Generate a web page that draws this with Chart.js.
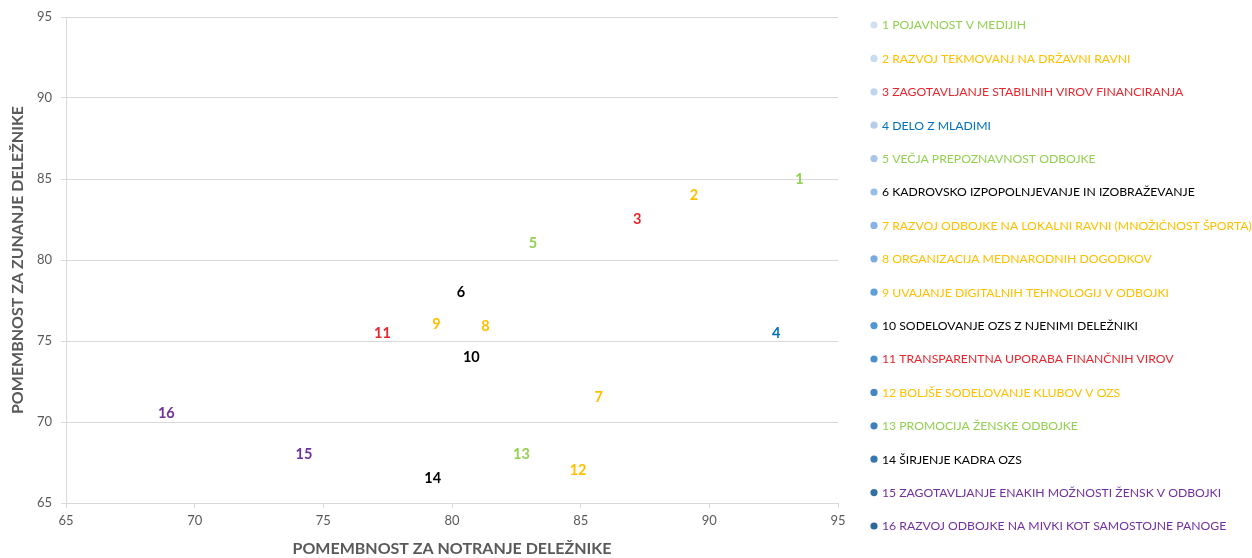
<!DOCTYPE html>
<html>
<head>
<meta charset="utf-8">
<script src="https://cdn.jsdelivr.net/npm/chart.js@4.4.1/dist/chart.umd.min.js"></script>
<style>
  html, body { margin: 0; padding: 0; background: #ffffff; }
  #wrap { width: 1252px; height: 558px; position: relative; }
</style>
</head>
<body>
<div id="wrap"><canvas id="c"></canvas></div>
<script>
const names = [
  "1 POJAVNOST V MEDIJIH",
  "2 RAZVOJ TEKMOVANJ NA DRŽAVNI RAVNI",
  "3 ZAGOTAVLJANJE STABILNIH VIROV FINANCIRANJA",
  "4 DELO Z MLADIMI",
  "5 VEČJA PREPOZNAVNOST ODBOJKE",
  "6 KADROVSKO IZPOPOLNJEVANJE IN IZOBRAŽEVANJE",
  "7 RAZVOJ ODBOJKE NA LOKALNI RAVNI (MNOŽIČNOST ŠPORTA)",
  "8 ORGANIZACIJA MEDNARODNIH DOGODKOV",
  "9 UVAJANJE DIGITALNIH TEHNOLOGIJ V ODBOJKI",
  "10 SODELOVANJE OZS Z NJENIMI DELEŽNIKI",
  "11 TRANSPARENTNA UPORABA FINANČNIH VIROV",
  "12 BOLJŠE SODELOVANJE KLUBOV V OZS",
  "13 PROMOCIJA ŽENSKE ODBOJKE",
  "14 ŠIRJENJE KADRA OZS",
  "15 ZAGOTAVLJANJE ENAKIH MOŽNOSTI ŽENSK V ODBOJKI",
  "16 RAZVOJ ODBOJKE NA MIVKI KOT SAMOSTOJNE PANOGE"
];
const pointLabels = ["1","2","3","4","5","6","7","8","9","10","11","12","13","14","15","16"];
const internalImportance = [93.5, 89.4, 87.2, 92.6, 83.15, 80.35, 85.7, 81.3, 79.4, 80.75, 77.3, 84.9, 82.7, 79.25, 74.25, 68.9];
const externalImportance = [85.0, 84.0, 82.5, 75.5, 81.05, 78.0, 71.5, 75.9, 76.0, 74.0, 75.5, 67.0, 68.0, 66.55, 68.0, 70.55];
const axisTicks = [65, 70, 75, 80, 85, 90, 95];
const xTitle = "POMEMBNOST ZA NOTRANJE DELEŽNIKE";
const yTitle = "POMEMBNOST ZA ZUNANJE DELEŽNIKE";

const GREEN = "#92D050", YELLOW = "#FFC000", RED = "#E8262E", BLUE = "#0070C0", BLACK = "#000000", PURPLE = "#7030A0";
const textColors = [GREEN, YELLOW, RED, BLUE, GREEN, BLACK, YELLOW, YELLOW, YELLOW, BLACK, RED, YELLOW, GREEN, BLACK, PURPLE, PURPLE];
const markerColors = ["#d0e0f2","#c8dbf0","#bfd5ee","#b3cdeb","#a6c5e9","#98bce6","#89b3e3","#7aaadf",
                      "#5d9fd8","#5197d3","#498fcc","#4387c3","#3d7fba","#3777af","#3270a4","#2e6898"];

const datasets = names.map((n, i) => ({
  label: n,
  data: [{ x: internalImportance[i], y: externalImportance[i] }],
  backgroundColor: markerColors[i],
  borderColor: markerColors[i],
  pointRadius: 0,
  pointHoverRadius: 0
}));

const labelPlugin = {
  id: 'pointLabels',
  afterDatasetsDraw(chart) {
    const ctx = chart.ctx;
    ctx.save();
    ctx.font = "bold 14.5px Lato";
    ctx.textAlign = "center";
    ctx.textBaseline = "middle";
    chart.data.datasets.forEach((ds, i) => {
      const meta = chart.getDatasetMeta(i);
      const el = meta.data[0];
      if (!el) return;
      ctx.fillStyle = textColors[i];
      ctx.fillText(pointLabels[i], el.x, el.y);
    });
    ctx.restore();
  }
};

const legendPlugin = {
  id: 'customLegend',
  afterDraw(chart) {
    const ctx = chart.ctx;
    const ca = chart.chartArea;
    const x0 = ca.right + 36;
    const y0 = ca.top + 8;
    const step = 33.4;
    ctx.save();
    ctx.font = "12.2px Lato";
    ctx.textAlign = "left";
    ctx.textBaseline = "middle";
    chart.data.datasets.forEach((ds, i) => {
      const y = y0 + i * step;
      ctx.beginPath();
      ctx.fillStyle = ds.backgroundColor;
      ctx.arc(x0, y, 3.6, 0, Math.PI * 2);
      ctx.fill();
      ctx.fillStyle = textColors[i];
      ctx.fillText(ds.label, x0 + 8, y + 0.5);
    });
    ctx.restore();
  }
};

new Chart(document.getElementById('c'), {
  type: 'scatter',
  data: { datasets },
  plugins: [labelPlugin, legendPlugin],
  options: {
    responsive: true,
    maintainAspectRatio: false,
    animation: false,
    events: [],
    layout: { padding: { top: 17, right: 414, left: 0, bottom: 0 } },
    plugins: { legend: { display: false }, tooltip: { enabled: false } },
    scales: {
      x: {
        type: 'linear',
        min: axisTicks[0], max: axisTicks[axisTicks.length - 1],
        afterBuildTicks(s) { s.ticks = axisTicks.map(v => ({ value: v })); },
        afterFit(s) { s.height = 55; },
        grid: { drawOnChartArea: false, drawTicks: true, tickLength: 5, color: "#d9d9d9", lineWidth: 1 },
        border: { display: true, color: "#d9d9d9", width: 1 },
        ticks: { color: "#595959", font: { family: "Lato", size: 13 }, padding: 5 },
        title: { display: true, text: xTitle, color: "#595959", font: { family: "Lato", size: 16, weight: "bold" }, padding: { top: 0, bottom: 0 } }
      },
      y: {
        type: 'linear',
        min: axisTicks[0], max: axisTicks[axisTicks.length - 1],
        afterBuildTicks(s) { s.ticks = axisTicks.map(v => ({ value: v })); },
        afterFit(s) { s.width = 66; },
        grid: { drawOnChartArea: true, drawTicks: true, tickLength: 5, color: "#d9d9d9", lineWidth: 1 },
        border: { display: true, color: "#d9d9d9", width: 1 },
        ticks: { color: "#595959", font: { family: "Lato", size: 13 }, padding: 9 },
        title: { display: true, text: yTitle, color: "#595959", font: { family: "Lato", size: 16, weight: "bold" }, padding: { top: 8, bottom: 0 } }
      }
    }
  }
});
</script>
</body>
</html>
